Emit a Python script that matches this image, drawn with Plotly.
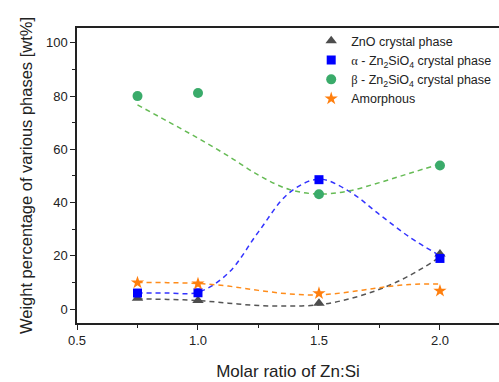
import plotly.graph_objects as go

ratio = [0.75, 1.0, 1.5, 2.0]
zno = [4.0, 3.2, 2.2, 20.7]
alpha = [6.0, 6.1, 48.6, 19.0]
beta = [80.0, 81.2, 43.1, 53.9]
amorph = [9.9, 9.5, 5.9, 6.8]

fit_x = [0.75, 0.875, 1.0, 1.125, 1.25, 1.375, 1.5, 1.625, 1.75, 1.875, 2.0]
fit_zno = [3.8, 3.6, 3.2, 2.2, 1.3, 1.1, 1.6, 3.8, 7.4, 12.6, 19.5]
fit_alpha = [6.0, 6.0, 6.3, 13.5, 29.0, 43.5, 48.8, 44.2, 35.5, 27.0, 20.0]
fit_beta = [76.7, 70.5, 64.2, 57.5, 50.3, 45.0, 43.2, 44.4, 47.5, 51.0, 54.5]
fit_amorph = [10.0, 9.9, 9.6, 8.6, 7.0, 5.7, 5.3, 6.4, 8.0, 9.2, 9.4]

x_ticks = [0.5, 1.0, 1.5, 2.0]
y_ticks = [0, 20, 40, 60, 80, 100]

names = [
    "ZnO crystal phase",
    "<span style='font-family:Liberation Serif'>α</span> - Zn<sub>2</sub>SiO<sub>4</sub> crystal phase",
    "<span style='font-family:Liberation Serif'>β</span> - Zn<sub>2</sub>SiO<sub>4</sub> crystal phase",
    "Amorphous",
]

fig = go.Figure()

fits = [fit_zno, fit_alpha, fit_beta, fit_amorph]
line_colors = ["#555555", "#3333ff", "#66bb55", "#ff8c1a"]
for fy, c in zip(fits, line_colors):
    fig.add_trace(go.Scatter(x=fit_x, y=fy, mode="lines", line=dict(color=c, width=1.5, dash="5px,4px", shape="spline"),
                             showlegend=False, hoverinfo="skip"))

series = [zno, alpha, beta, amorph]
symbols = ["triangle-up", "square", "circle", "star"]
colors = ["#4d4d4d", "#0000ff", "#3aab6a", "#ff7f0e"]
sizes = [10, 9, 10, 10]
for s, n, sym, c, sz in zip(series, names, symbols, colors, sizes):
    fig.add_trace(go.Scatter(x=ratio, y=s, mode="markers", name=n,
                             marker=dict(symbol=sym, color=c, size=sz, line=dict(width=0))))

axis_font = dict(family="Liberation Sans, Arial", size=13, color="#222222")
fig.update_layout(
    width=499, height=382,
    margin=dict(l=77, r=0, t=28, b=59),
    paper_bgcolor="white", plot_bgcolor="white",
    font=dict(family="Liberation Sans, Arial", color="#222222"),
    legend=dict(x=0.555, y=1.006, xanchor="left", yanchor="top", bgcolor="rgba(0,0,0,0)",
                font=dict(family="Liberation Sans, Arial", size=12.5, color="#222222"),
                tracegroupgap=0),
    xaxis=dict(range=[0.5, 2.244], tickvals=x_ticks, ticktext=["0.5", "1.0", "1.5", "2.0"],
               ticks="outside", ticklen=5, tickwidth=1.2, tickcolor="#222222",
               minor=dict(dtick=0.25, ticks="outside", ticklen=3, tickwidth=1.2, tickcolor="#222222"),
               showline=True, linecolor="#222222", linewidth=1.5, mirror=True,
               showgrid=False, zeroline=False, tickfont=axis_font,
               title=dict(text="Molar ratio of Zn:Si", font=dict(family="Liberation Sans, Arial", size=17, color="#222222"), standoff=18)),
    yaxis=dict(range=[-5.26, 105.6], tickvals=y_ticks,
               ticks="outside", ticklen=5, tickwidth=1.2, tickcolor="#222222",
               minor=dict(dtick=10, tick0=0, ticks="outside", ticklen=3, tickwidth=1.2, tickcolor="#222222"),
               showline=True, linecolor="#222222", linewidth=1.5, mirror=False,
               showgrid=False, zeroline=False, tickfont=axis_font,
               title=dict(text="Weight percentage of various phases [wt%]", font=dict(family="Liberation Sans, Arial", size=16.5, color="#222222"), standoff=9)),
)

fig.write_html("out.html")
